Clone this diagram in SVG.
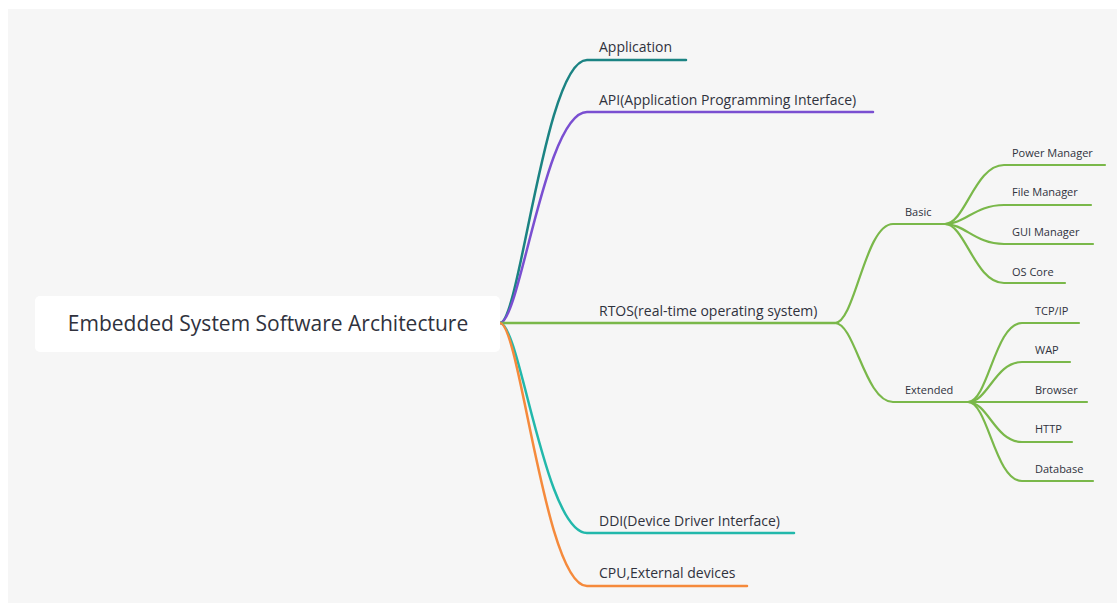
<svg xmlns="http://www.w3.org/2000/svg" width="1117" height="605" viewBox="0 0 1117 605">
<style>
.t{font-family:"Open Sans","Noto Sans","Liberation Sans",sans-serif;fill:#30323d}
.root{font-size:21px}
.l1{font-size:14px}
.l2{font-size:11px}
.l3{font-size:11px}
.c{fill:none;stroke-linecap:round}
.w1{stroke-width:2.5}
.w2{stroke-width:2.2}
.g{stroke:#7ab84a}
</style>
<rect x="0" y="0" width="1117" height="605" fill="#ffffff"/>
<rect x="8" y="9" width="1109" height="594" fill="#f6f6f6"/>
<g id="connectors">
<path class="c w1" stroke="#1b8383" d="M500,323 C520,323 545,60 587,60 L686,60"/>
<path class="c w1" stroke="#7a4fd1" d="M500,323 C520,323 545,112 587,112 L873,112"/>
<path class="c w1 g" d="M500,323 L835,323"/>
<path class="c w1" stroke="#22b8ab" d="M500,323 C520,323 545,533 587,533 L794,533"/>
<path class="c w1" stroke="#f58a3c" d="M500,323 C520,323 545,586 587,586 L747,586"/>
<path class="c w2 g" d="M835,323 C855,323 865,224 893,224 L945,224"/>
<path class="c w2 g" d="M835,323 C855,323 865,402 893,402 L968,402"/>
<path class="c w2 g" d="M945,224 C965,224 975,165 1004,165 L1105,165"/>
<path class="c w2 g" d="M945,224 C965,224 975,205 1004,205 L1091,205"/>
<path class="c w2 g" d="M945,224 C965,224 975,244 1004,244 L1093,244"/>
<path class="c w2 g" d="M945,224 C965,224 975,283 1004,283 L1065,283"/>
<path class="c w2 g" d="M968,402 C988,402 995,323 1022,323 L1079,323"/>
<path class="c w2 g" d="M968,402 C988,402 995,362 1022,362 L1070,362"/>
<path class="c w2 g" d="M968,402 L1087,402"/>
<path class="c w2 g" d="M968,402 C988,402 995,442 1022,442 L1072,442"/>
<path class="c w2 g" d="M968,402 C988,402 995,481 1022,481 L1093,481"/>
</g>
<g id="root">
<rect x="35" y="296" width="465" height="56" rx="5" fill="#ffffff"/>
<text class="t root" x="268" y="331" text-anchor="middle">Embedded System Software Architecture</text>
</g>
<g id="n-application"><text class="t l1" x="599" y="52">Application</text></g>
<g id="n-api"><text class="t l1" x="599" y="105">API(Application Programming Interface)</text></g>
<g id="n-rtos"><text class="t l1" x="599" y="316">RTOS(real-time operating system)</text></g>
<g id="n-ddi"><text class="t l1" x="599" y="526">DDI(Device Driver Interface)</text></g>
<g id="n-cpu"><text class="t l1" x="599" y="578">CPU,External devices</text></g>
<g id="n-basic"><text class="t l2" x="905" y="216">Basic</text></g>
<g id="n-extended"><text class="t l2" x="905" y="394">Extended</text></g>
<g id="n-power"><text class="t l3" x="1012" y="157">Power Manager</text></g>
<g id="n-file"><text class="t l3" x="1012" y="196">File Manager</text></g>
<g id="n-gui"><text class="t l3" x="1012" y="236">GUI Manager</text></g>
<g id="n-oscore"><text class="t l3" x="1012" y="276">OS Core</text></g>
<g id="n-tcpip"><text class="t l3" x="1035" y="315">TCP/IP</text></g>
<g id="n-wap"><text class="t l3" x="1035" y="354">WAP</text></g>
<g id="n-browser"><text class="t l3" x="1035" y="394">Browser</text></g>
<g id="n-http"><text class="t l3" x="1035" y="433">HTTP</text></g>
<g id="n-database"><text class="t l3" x="1035" y="473">Database</text></g>
</svg>
